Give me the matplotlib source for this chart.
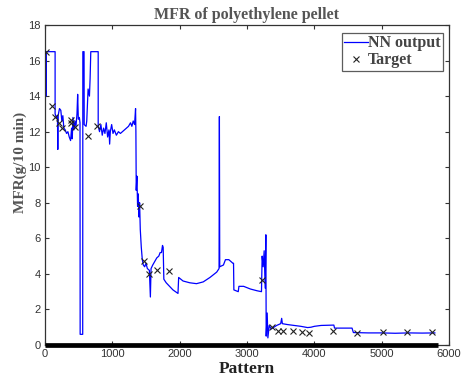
import matplotlib
matplotlib.use("Agg")
import matplotlib.pyplot as plt

# NN output series (pattern, MFR)
nn_pattern = [0, 5, 15, 20, 150, 150, 170, 185, 190, 195, 215, 235, 250, 265, 280, 300, 320, 340,
              360, 380, 395, 405, 415, 430, 445, 460, 475, 485, 495, 510, 520, 522, 560, 562,
              580, 582, 610, 620, 640, 650, 660, 670, 680, 790, 790,
              810, 830, 850, 870, 890, 910, 930, 950, 960, 970, 990, 1010, 1030, 1060, 1090,
              1120, 1150, 1180, 1210, 1240, 1270, 1290, 1310, 1330, 1345, 1350,
              1355, 1365, 1375, 1385, 1395, 1405, 1415, 1430, 1445, 1460, 1480, 1500, 1520,
              1550, 1565, 1575, 1600, 1630, 1660, 1690, 1710, 1730, 1745, 1755, 1765, 1800,
              1850, 1900, 1975, 1985, 2050, 2150, 2250, 2350, 2450, 2550, 2585, 2590, 2595,
              2650, 2680, 2730, 2790, 2800, 2805, 2870, 2880, 2950, 3050, 3150, 3215, 3225,
              3240, 3255, 3270, 3280, 3285, 3300, 3310, 3330, 3360, 3400, 3440, 3500, 3515,
              3525, 3600, 3700, 3800, 3900, 3950, 4000, 4100, 4290, 4300, 4500, 4560, 4580,
              4800, 5000, 5200, 5400, 5600, 5790]
nn_mfr = [13.3, 16.5, 14.0, 16.5, 16.5, 13.0, 12.8, 12.9, 11.0, 12.9, 13.3, 13.2, 12.6, 12.9,
          12.2, 12.1, 11.9, 12.0, 11.7, 11.5, 12.2, 11.6, 12.8, 12.1, 12.6, 12.3, 13.0, 14.1,
          12.7, 12.8, 12.5, 0.6, 0.6, 16.5, 16.5, 12.4, 12.3, 12.6, 14.4, 14.2, 14.0, 15.0,
          16.5, 16.5, 12.3,
          12.0, 12.4, 11.8, 12.2, 11.9, 12.5, 11.7, 12.1, 11.3, 12.0, 12.4, 11.9, 12.1, 11.8,
          12.0, 11.9, 12.0, 12.1, 12.2, 12.3, 12.5, 12.3, 12.6, 12.4, 13.3, 12.0,
          8.7, 9.5, 7.8, 8.5, 7.2, 8.0, 6.5, 5.5, 4.8, 4.5, 4.4, 4.6, 4.3,
          4.2, 2.7, 4.3, 4.5, 4.7, 4.9, 5.0, 5.2, 5.2, 5.6, 5.5, 3.7, 3.5,
          3.3, 3.1, 2.9, 3.8, 3.6, 3.5, 3.45, 3.55, 3.8, 4.1, 4.3, 12.85, 4.4,
          4.5, 4.8, 4.8, 4.6, 4.6, 3.1, 3.0, 3.3, 3.3, 3.15, 3.05, 3.0, 5.0,
          4.4, 5.3, 3.2, 6.2, 0.5, 1.8, 0.4, 1.1, 0.9, 1.0, 1.1, 1.2, 1.5,
          1.2, 1.15, 1.1, 1.05, 0.98, 1.0, 1.05, 1.1, 1.12, 0.95, 0.95, 0.95, 0.7,
          0.68, 0.68, 0.66, 0.68, 0.67, 0.68]

# Target points
target_pattern = [10, 99, 148, 213, 257, 386, 386, 445, 634, 767, 1411, 1470, 1549, 1658, 1836,
                  3218, 3376, 3465, 3540, 3688, 3812, 3925, 4282, 4639, 5015, 5371, 5742]
target_mfr = [16.5, 13.44, 12.84, 12.47, 12.19, 12.65, 12.47, 12.24, 11.75, 12.32, 7.82, 4.72,
              3.98, 4.22, 4.18, 3.66, 1.03, 0.81, 0.81, 0.81, 0.75, 0.69, 0.81, 0.69, 0.75,
              0.75, 0.75]

# Thick baseline band along zero
base_pattern = [0, 5840]
base_mfr = [0, 0]

x_ticks = [0, 1000, 2000, 3000, 4000, 5000, 6000]
y_ticks = [0, 2, 4, 6, 8, 10, 12, 14, 16, 18]

fig = plt.figure(figsize=(4.63, 3.81), dpi=100)
ax = fig.add_axes([45/463, 36/381, 404/463, 320/381])

ax.plot(base_pattern, base_mfr, color="black", lw=3.4, solid_capstyle="butt", clip_on=False, zorder=3)
ax.plot(nn_pattern, nn_mfr, color="#0000ff", lw=0.9, label="NN output", zorder=2)
ax.plot(target_pattern, target_mfr, ls="none", marker="x", color="#222222", ms=4, mew=0.8,
        label="Target", zorder=4)

ax.set_xlim(0, 6000)
ax.set_ylim(0, 18)
ax.set_xticks(x_ticks)
ax.set_yticks(y_ticks)
ax.tick_params(direction="in", length=3, width=0.8, top=True, right=True,
               labelsize=8, colors="#333333", labelcolor="#333333", pad=3)
for lab in ax.get_xticklabels() + ax.get_yticklabels():
    lab.set_family("Liberation Sans")
for s in ax.spines.values():
    s.set_color("#333333")
    s.set_linewidth(0.9)

serif = "Liberation Serif"
ax.set_title("MFR of polyethylene pellet", family=serif, fontweight="bold", fontsize=11.5,
             color="#555555", pad=4)
ax.set_xlabel("Pattern", family=serif, fontweight="bold", fontsize=12.5, color="#222222",
              labelpad=1)
ax.set_ylabel("MFR(g/10 min)", family=serif, fontweight="bold", fontsize=11, color="#555555")
ax.yaxis.set_label_coords(-0.045, 0.57)

leg = ax.legend(loc="upper right", bbox_to_anchor=(0.985, 0.975), frameon=True, fancybox=False,
                handlelength=1.5, handletextpad=0.0, borderpad=0.15, labelspacing=0.05,
                borderaxespad=0.0,
                prop={"family": serif, "weight": "bold", "size": 11.5})
leg.get_frame().set_edgecolor("#333333")
leg.get_frame().set_linewidth(0.9)
for t in leg.get_texts():
    t.set_color("#444444")

fig.savefig("out.png", dpi=100, facecolor="white")
